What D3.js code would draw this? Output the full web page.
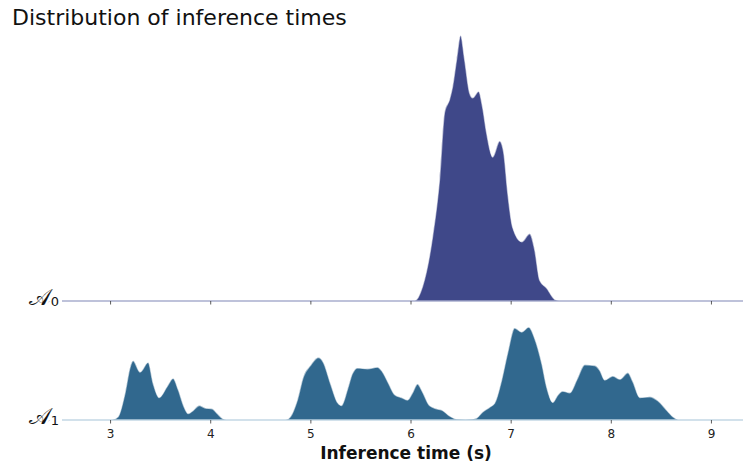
<!DOCTYPE html>
<html lang="en">
<head>
  <meta charset="UTF-8">
  <title>ridgeline</title>
  <script src="https://cdn.jsdelivr.net/npm/d3@7"></script>
  <style>
    body { margin: 0; background: #fff; }
    text { font-family: "DejaVu Sans", sans-serif; }
  </style>
</head>
<body>
  <svg width="743" height="465" id="mainsvg"></svg>
  <script>
    // density estimates, per model
    const names = ['0', '1']
    const xTicks = [3, 4, 5, 6, 7, 8, 9]

    const a0X = [6.00, 6.04, 6.12, 6.22, 6.29, 6.34, 6.39, 6.42, 6.46, 6.50, 6.54, 6.59, 6.62, 6.68, 6.72,
      6.76, 6.82, 6.89, 6.93, 6.97, 7.02, 7.11, 7.19, 7.24, 7.29, 7.36, 7.44, 7.48]
    const a0Y = [0, 0, 0.09, 0.40, 0.76, 1.18, 1.26, 1.34, 1.51, 1.66, 1.51, 1.30, 1.27, 1.31, 1.21,
      1.05, 0.90, 1.00, 0.93, 0.68, 0.46, 0.37, 0.42, 0.32, 0.13, 0.08, 0.01, 0]

    const a1X = [3.02, 3.08, 3.15, 3.20, 3.23, 3.30, 3.38, 3.43, 3.49, 3.57, 3.63, 3.68, 3.74, 3.78, 3.83,
      3.89, 3.95, 4.02, 4.07, 4.13, 4.16, 4.75, 4.80, 4.87, 4.93, 5.00, 5.08, 5.13, 5.20, 5.27, 5.31,
      5.37, 5.42, 5.47, 5.57, 5.67, 5.71, 5.78, 5.84, 5.91, 5.97, 6.02, 6.07, 6.12, 6.19, 6.26, 6.32,
      6.39, 6.46, 6.55, 6.62, 6.66, 6.72, 6.79, 6.84, 6.91, 6.97, 7.04, 7.11, 7.18, 7.24, 7.31, 7.36,
      7.42, 7.47, 7.52, 7.59, 7.66, 7.74, 7.84, 7.89, 7.94, 8.02, 8.09, 8.17, 8.22, 8.29, 8.39, 8.47,
      8.56, 8.62, 8.67]
    const a1Y = [0, 0.02, 0.17, 0.33, 0.37, 0.30, 0.36, 0.23, 0.14, 0.21, 0.26, 0.19, 0.08, 0.04, 0.06,
      0.09, 0.075, 0.07, 0.04, 0.006, 0, 0, 0.02, 0.125, 0.27, 0.34, 0.39, 0.36, 0.23, 0.11, 0.09,
      0.19, 0.29, 0.325, 0.32, 0.33, 0.31, 0.23, 0.16, 0.14, 0.125, 0.17, 0.225, 0.175, 0.09, 0.07, 0.06,
      0.025, 0.005, 0.002, 0.005, 0.012, 0.05, 0.08, 0.105, 0.25, 0.42, 0.575, 0.55, 0.58, 0.51, 0.355, 0.205,
      0.11, 0.155, 0.18, 0.17, 0.25, 0.345, 0.34, 0.31, 0.25, 0.275, 0.255, 0.295, 0.24, 0.14, 0.145, 0.12,
      0.06, 0.02, 0]

    const fills = ['#3f4889', '#31688e']
    const lines = ['#7f85b5', '#a6c4d8']

    const series = [
      {name: names[0], pts: a0X.map((x, i) => ({x: x, y: a0Y[i]}))},
      {name: names[1], pts: a1X.map((x, i) => ({x: x, y: a1Y[i]}))}
    ]

    const svg = d3.select('#mainsvg')

    const xScale = d3.scaleLinear().domain([2.52, 9.32]).range([62, 743])
    const baseScale = d3.scaleOrdinal().domain(names).range([301, 420])
    const hScale = d3.scaleLinear().domain([0, 1]).range([0, 160])

    series.forEach((s, i) => {
      const base = baseScale(s.name)
      const g = svg.append('g')

      const area = d3.area()
        .x(d => xScale(d.x))
        .y0(base)
        .y1(d => base - hScale(d.y))
        .curve(d3.curveMonotoneX)

      g.append('path').datum(s.pts)
        .attr('d', area)
        .attr('fill', fills[i])
        .attr('stroke', '#fff')
        .attr('stroke-opacity', 0.55)
        .attr('stroke-width', 1.3)

      // baseline
      g.append('line')
        .attr('x1', xScale.range()[0]).attr('x2', xScale.range()[1])
        .attr('y1', base).attr('y2', base)
        .attr('stroke', lines[i]).attr('stroke-width', 1.2)

      // ticks under each ridge
      const ax = g.append('g').attr('transform', `translate(0,${base})`)
        .call(d3.axisBottom(xScale).tickValues(xTicks).tickSize(3.5).tickFormat(i === 1 ? d3.format('d') : ''))
      ax.select('.domain').remove()
      ax.selectAll('.tick line').attr('stroke', '#333').attr('stroke-width', 0.8)
      ax.selectAll('.tick text').attr('font-size', '12px').attr('fill', '#222').attr('dy', '0.95em')
        .attr('font-family', '"DejaVu Sans", sans-serif')

      const lab = g.append('text')
        .attr('x', 59).attr('y', base + 4)
        .attr('text-anchor', 'end')
        .attr('font-size', '23px')
        .attr('font-family', '"DejaVu Serif", "Noto Sans", serif')
        .attr('fill', '#111')
      lab.append('tspan').text('\u{1D49C}')
      lab.append('tspan').text(s.name).attr('font-size', '13px').attr('dy', 1)
        .attr('font-family', '"DejaVu Sans", sans-serif')
    })

    svg.append('text').text('Distribution of inference times')
      .attr('x', 12).attr('y', 25)
      .attr('font-size', '22px').attr('fill', '#111')

    svg.append('text').text('Inference time (s)')
      .attr('x', 406).attr('y', 459)
      .attr('text-anchor', 'middle')
      .attr('font-size', '17px').attr('font-weight', 'bold').attr('fill', '#111')
  </script>
</body>
</html>
